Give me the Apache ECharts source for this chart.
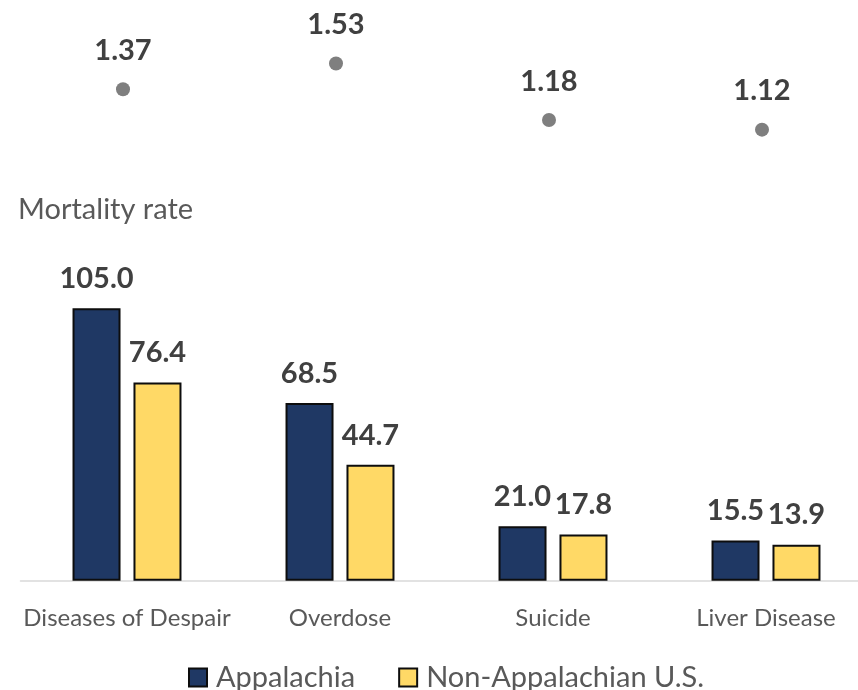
<!DOCTYPE html>
<html>
<head>
<meta charset="utf-8">
<script src="https://cdn.jsdelivr.net/npm/echarts@6/dist/echarts.min.js"></script>
<style>
  html, body { margin: 0; padding: 0; background: #ffffff; }
  #chart { width: 858px; height: 690px; }
</style>
</head>
<body>
<div id="chart"></div>
<script>
// Causes of death compared
const categories = ['Diseases of Despair', 'Overdose', 'Suicide', 'Liver Disease'];
// Mortality rates
const appalachia = [105.0, 68.5, 21.0, 15.5];
const nonAppalachia = [76.4, 44.7, 17.8, 13.9];
// Appalachia / Non-Appalachian ratio
const ratio = [1.37, 1.53, 1.18, 1.12];
const seriesNames = ['Appalachia', 'Non-Appalachian U.S.'];
const yTitle = 'Mortality rate';

const FONT = 'Lato, "Liberation Sans", sans-serif';
const labelGray = '#595959';
const numGray = '#404040';

const chart = echarts.init(document.getElementById('chart'), null, { renderer: 'canvas' });

const numLabel = {
  show: true,
  position: 'top',
  fontFamily: FONT,
  fontWeight: 'bold',
  fontSize: 29,
  color: numGray,
  formatter: p => p.value.toFixed(1)
};

chart.setOption({
  animation: false,
  backgroundColor: '#ffffff',
  title: {
    text: yTitle,
    left: 13,
    top: 190,
    textStyle: { fontFamily: FONT, fontWeight: 'normal', fontSize: 29, color: labelGray }
  },
  legend: {
    data: seriesNames,
    left: 183,
    top: 658,
    icon: 'rect',
    itemWidth: 18,
    itemHeight: 18,
    itemGap: 43,
    textStyle: { fontFamily: FONT, fontSize: 29, color: labelGray, padding: [0, 0, 0, 4] }
  },
  grid: [
    // the bar plot runs slightly past the right edge of the canvas
    { left: 20.5, width: 852, top: 269.3, height: 311.4, containLabel: false, outerBoundsMode: 'none' },
    { left: 16.5, width: 852, top: 36, height: 113, containLabel: false, outerBoundsMode: 'none' }
  ],
  xAxis: [
    {
      type: 'category',
      gridIndex: 0,
      data: categories,
      axisTick: { show: false },
      axisLine: { show: true, lineStyle: { color: '#d9d9d9', width: 1.5 } },
      axisLabel: { margin: 26, fontFamily: FONT, fontSize: 24, color: labelGray, interval: 0 }
    },
    {
      type: 'category',
      gridIndex: 1,
      data: categories,
      show: false
    }
  ],
  yAxis: [
    { type: 'value', gridIndex: 0, min: 0, max: 120, show: false },
    { type: 'value', gridIndex: 1, min: 1, max: 1.7, show: false }
  ],
  series: [
    {
      name: seriesNames[0],
      type: 'bar',
      xAxisIndex: 0,
      yAxisIndex: 0,
      data: appalachia,
      barWidth: 48,
      barGap: '27%',
      itemStyle: { color: '#1f3864', borderColor: '#0d0d0d', borderWidth: 2 },
      label: Object.assign({}, numLabel, { distance: 15 })
    },
    {
      name: seriesNames[1],
      type: 'bar',
      xAxisIndex: 0,
      yAxisIndex: 0,
      data: nonAppalachia,
      barWidth: 48,
      barGap: '27%',
      itemStyle: { color: '#ffd966', borderColor: '#0d0d0d', borderWidth: 2 },
      label: Object.assign({}, numLabel, { distance: 15 })
    },
    {
      name: 'Ratio',
      type: 'scatter',
      xAxisIndex: 1,
      yAxisIndex: 1,
      data: ratio,
      symbol: 'circle',
      symbolSize: 14,
      itemStyle: { color: '#7f7f7f', opacity: 1 },
      label: Object.assign({}, numLabel, { distance: 17, formatter: p => p.value.toFixed(2) })
    }
  ]
});
</script>
</body>
</html>
